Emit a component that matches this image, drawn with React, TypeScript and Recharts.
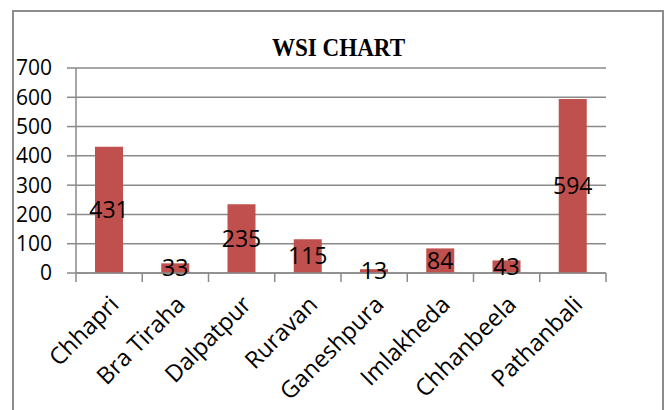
import { Bar, BarChart, CartesianGrid, LabelList, XAxis, YAxis } from "recharts";

const villages = ["Chhapri", "Bra Tiraha", "Dalpatpur", "Ruravan", "Ganeshpura", "Imlakheda", "Chhanbeela", "Pathanbali"];
const wsiValues = [431, 33, 235, 115, 13, 84, 43, 594];
const yTicks = [0, 100, 200, 300, 400, 500, 600, 700];

const data = villages.map((name, i) => ({ name, value: wsiValues[i] }));

const GRID = "#8a8a8a";
const BAR = "#c0504d";
const FONT = "'Open Sans', sans-serif";

// rotated category label plus the Excel-style tick marks between categories
function VillageTick(props: any) {
  const { x, y, payload, index } = props;
  const half = payload?.offset ?? 0;
  const last = index === villages.length - 1;
  const px = x + 11;
  const py = y + 33;
  return (
    <g>
      <line x1={x - half} y1={y} x2={x - half} y2={y + 9} stroke={GRID} strokeWidth={1.5} />
      {last && <line x1={x + half} y1={y} x2={x + half} y2={y + 9} stroke={GRID} strokeWidth={1.5} />}
      <text
        x={px}
        y={py}
        textAnchor="end"
        transform={`rotate(-45, ${px}, ${py})`}
        fontSize={23.5}
        fontFamily={FONT}
        fill="#000"
      >
        {payload.value}
      </text>
    </g>
  );
}

export default function App() {
  return (
    <div style={{ position: "absolute", left: 0, top: 0, width: 668, height: 410, overflow: "hidden", background: "#fff" }}>
      <div
        style={{
          position: "absolute",
          left: 12,
          top: 10,
          width: 648,
          height: 430,
          border: "2px solid #8c8c8c",
        }}
      />
      <svg width={668} height={80} style={{ position: "absolute", left: 0, top: 0 }}>
        <text
          x={338.5}
          y={56}
          textAnchor="middle"
          fontFamily="'Liberation Serif', serif"
          fontWeight="bold"
          fontSize={26}
          textLength={133}
          lengthAdjust="spacingAndGlyphs"
          fill="#000"
        >
          WSI CHART
        </text>
      </svg>
      <div style={{ position: "absolute", left: 0, top: 0 }}>
        <BarChart width={668} height={410} data={data} margin={{ top: 68, right: 62, left: 0, bottom: 0 }}>
          <CartesianGrid horizontal vertical={false} stroke={GRID} strokeWidth={1.5} />
          <XAxis
            dataKey="name"
            interval={0}
            height={137}
            tickSize={0}
            tickMargin={0}
            tickLine={false}
            axisLine={{ stroke: GRID, strokeWidth: 1.5 }}
            tick={<VillageTick />}
          />
          <YAxis
            domain={[0, 700]}
            ticks={yTicks}
            width={76}
            tickSize={9}
            tickMargin={15}
            interval={0}
            axisLine={{ stroke: GRID, strokeWidth: 1.5 }}
            tickLine={{ stroke: GRID, strokeWidth: 1.5 }}
            tick={{ fontSize: 21, fontFamily: FONT, fill: "#000" }}
          />
          <Bar dataKey="value" fill={BAR} barSize={28} isAnimationActive={false}>
            <LabelList dataKey="value" position="center" fontSize={23} fontFamily={FONT} fill="#000" />
          </Bar>
        </BarChart>
      </div>
    </div>
  );
}
